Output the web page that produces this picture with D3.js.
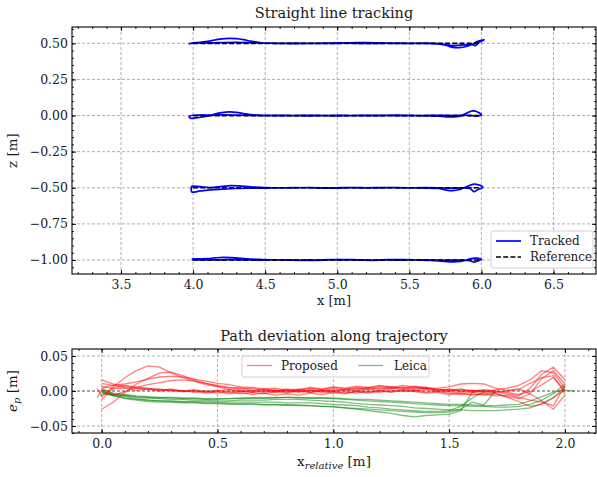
<!DOCTYPE html>
<html>
<head>
<meta charset="utf-8">
<script src="https://cdn.jsdelivr.net/npm/d3@7"></script>
<style>
body { margin: 0; background: #fff; }
svg text { font-family: "DejaVu Serif", serif; fill: #1a1a1a; }
</style>
</head>
<body>
<div id="chart-area"></div>
<script>
// ---- top plot data ----
const refZ = [0.5, 0.0, -0.5, -1.0];
const refX = [4.0, 6.0];

const track050 = [[3.97,0.493],[3.99,0.502],[4.05,0.507],[4.10,0.514],[4.15,0.523],[4.20,0.531],[4.25,0.534],[4.30,0.532],[4.35,0.525],[4.40,0.515],[4.45,0.507],[4.50,0.502],[4.60,0.500],[4.70,0.498],[4.80,0.499],[4.90,0.501],[5.00,0.503],[5.10,0.504],[5.20,0.505],[5.30,0.503],[5.40,0.500],[5.50,0.499],[5.60,0.500],[5.70,0.496],[5.75,0.487],[5.80,0.472],[5.85,0.470],[5.90,0.480],[5.94,0.494],[5.97,0.512],[6.02,0.524],[5.98,0.505],[5.96,0.484],[5.93,0.493],[5.88,0.489],[5.82,0.484],[5.76,0.490],[5.70,0.498],[5.60,0.501],[5.50,0.500],[5.40,0.502],[5.30,0.500],[5.20,0.499],[5.10,0.501],[5.00,0.500],[4.90,0.499],[4.80,0.500],[4.70,0.501],[4.60,0.500],[4.50,0.502],[4.40,0.504],[4.30,0.506],[4.20,0.505],[4.10,0.503],[4.00,0.501],[3.97,0.498]];
const track000 = [[3.97,-0.005],[3.98,-0.018],[4.05,-0.012],[4.10,-0.004],[4.15,0.010],[4.20,0.020],[4.25,0.025],[4.30,0.022],[4.35,0.014],[4.40,0.006],[4.50,0.001],[4.60,-0.001],[4.70,0.000],[4.80,-0.002],[4.90,0.000],[5.00,0.001],[5.10,0.000],[5.20,0.002],[5.30,0.000],[5.40,0.003],[5.50,0.001],[5.60,-0.002],[5.70,-0.004],[5.75,-0.008],[5.80,-0.010],[5.85,-0.005],[5.90,0.018],[5.94,0.032],[5.97,0.026],[6.00,0.003],[5.97,-0.002],[5.90,0.002],[5.80,0.000],[5.70,0.002],[5.60,0.000],[5.50,-0.001],[5.40,0.000],[5.30,0.001],[5.20,-0.001],[5.10,0.000],[5.00,-0.002],[4.90,0.000],[4.80,0.002],[4.70,0.000],[4.60,0.001],[4.50,0.000],[4.40,0.001],[4.30,0.003],[4.20,0.004],[4.10,0.003],[4.00,0.002],[3.97,-0.005]];
const trackM050 = [[3.99,-0.488],[4.05,-0.492],[4.12,-0.498],[4.20,-0.490],[4.26,-0.485],[4.32,-0.487],[4.40,-0.494],[4.50,-0.499],[4.60,-0.501],[4.70,-0.499],[4.80,-0.500],[4.90,-0.502],[5.00,-0.500],[5.10,-0.498],[5.20,-0.500],[5.30,-0.501],[5.40,-0.499],[5.50,-0.500],[5.60,-0.502],[5.70,-0.505],[5.75,-0.515],[5.80,-0.520],[5.85,-0.512],[5.90,-0.492],[5.94,-0.476],[5.98,-0.480],[6.01,-0.497],[5.97,-0.515],[5.95,-0.527],[5.92,-0.505],[5.85,-0.502],[5.80,-0.503],[5.70,-0.500],[5.60,-0.499],[5.50,-0.501],[5.40,-0.500],[5.30,-0.498],[5.20,-0.501],[5.10,-0.500],[5.00,-0.502],[4.90,-0.500],[4.80,-0.499],[4.70,-0.501],[4.60,-0.500],[4.50,-0.502],[4.40,-0.503],[4.30,-0.505],[4.20,-0.510],[4.12,-0.515],[4.05,-0.522],[3.99,-0.528],[3.99,-0.488]];
const trackM100 = [[3.99,-0.994],[4.05,-0.992],[4.10,-0.990],[4.15,-0.986],[4.21,-0.982],[4.27,-0.984],[4.35,-0.990],[4.45,-0.996],[4.55,-0.999],[4.65,-1.001],[4.75,-1.002],[4.85,-1.000],[4.95,-0.998],[5.05,-0.997],[5.15,-0.999],[5.25,-1.000],[5.35,-0.998],[5.45,-0.997],[5.55,-1.000],[5.65,-1.003],[5.72,-1.008],[5.78,-1.013],[5.83,-1.012],[5.88,-1.004],[5.93,-0.990],[5.96,-0.987],[6.00,-0.995],[5.98,-1.005],[5.95,-1.015],[5.92,-1.005],[5.85,-1.001],[5.75,-1.002],[5.65,-1.000],[5.55,-0.999],[5.45,-1.001],[5.35,-1.000],[5.25,-1.002],[5.15,-1.001],[5.05,-0.999],[4.95,-1.000],[4.85,-1.002],[4.75,-1.000],[4.65,-0.999],[4.55,-1.000],[4.45,-1.001],[4.35,-0.999],[4.25,-0.998],[4.15,-0.999],[4.05,-1.000],[3.99,-0.998]];
const tracks = [track050, track000, trackM050, trackM100];

const topXTicks = [3.5, 4.0, 4.5, 5.0, 5.5, 6.0, 6.5];
const topYTicks = [0.5, 0.25, 0.0, -0.25, -0.5, -0.75, -1.0];

// ---- bottom plot data ----
const xRel = [-0.02,0.00,0.05,0.10,0.15,0.20,0.25,0.30,0.35,0.40,0.45,0.50,0.55,0.60,0.65,0.70,0.75,0.80,0.85,0.90,0.95,1.00,1.05,1.10,1.15,1.20,1.25,1.30,1.35,1.40,1.45,1.50,1.55,1.60,1.65,1.70,1.75,1.80,1.85,1.90,1.95,2.00,2.04];

const proposed1 = [0.004,-0.008,0.006,0.019,0.029,0.036,0.034,0.026,0.019,0.014,0.009,0.006,0.002,0.001,-0.002,0.000,-0.002,0.001,-0.001,0.002,0.000,0.003,0.001,0.004,0.002,0.005,0.003,0.006,0.004,0.005,0.001,0.002,-0.001,0.001,-0.002,-0.001,-0.004,-0.007,0.004,0.024,0.034,0.016,null];
const proposed2 = [null,-0.026,-0.016,-0.002,0.010,0.018,0.026,0.027,0.022,0.016,0.011,0.007,0.004,0.005,0.001,0.003,0.000,0.002,-0.002,0.001,-0.002,0.000,-0.003,0.000,-0.002,0.001,-0.001,0.002,0.000,0.002,-0.001,-0.003,-0.005,-0.004,-0.006,-0.004,-0.008,-0.011,-0.004,0.018,0.029,0.010,null];
const proposed3 = [null,0.011,0.008,0.010,0.013,0.017,0.020,0.021,0.020,0.017,0.014,0.011,0.009,0.006,0.005,0.003,0.004,0.001,0.003,0.000,0.002,0.000,0.003,0.005,0.004,0.007,0.005,0.008,0.006,0.004,0.002,0.000,0.002,-0.001,0.001,-0.002,0.000,0.002,0.011,0.019,0.022,-0.004,null];
const proposed4 = [-0.010,0.001,-0.006,-0.001,0.005,0.009,0.012,0.015,0.016,0.014,0.011,0.008,0.005,0.003,0.004,0.001,0.002,-0.001,0.001,-0.002,0.000,-0.003,-0.001,-0.003,0.000,-0.002,0.001,-0.001,0.001,-0.002,0.000,-0.001,-0.003,-0.002,-0.004,-0.003,-0.009,-0.015,-0.022,-0.019,-0.010,0.006,null];
const proposed5 = [null,0.016,0.010,0.007,0.004,0.003,0.001,0.003,0.000,0.002,-0.001,0.001,-0.002,0.000,-0.001,0.002,0.000,0.003,0.001,0.004,0.002,0.005,0.003,0.002,0.005,0.003,0.006,0.004,0.002,0.004,0.001,0.003,0.000,0.001,-0.001,0.002,0.004,0.008,0.016,0.029,0.026,0.004,null];
const proposed6 = [null,0.004,0.008,0.005,0.004,0.002,0.003,0.000,0.001,-0.002,0.000,-0.003,-0.001,-0.004,-0.002,-0.004,-0.001,-0.003,0.000,-0.002,0.001,-0.001,0.002,0.000,0.003,0.001,0.004,0.002,0.005,0.003,0.004,0.006,0.010,0.011,0.010,0.004,0.001,0.003,-0.004,-0.014,-0.026,-0.006,null];
const proposed7 = [null,-0.012,0.004,0.008,0.006,0.004,0.002,0.001,-0.001,0.000,-0.003,-0.001,-0.004,-0.002,-0.005,-0.003,-0.006,-0.004,-0.006,-0.003,-0.005,-0.002,-0.004,-0.001,-0.003,0.000,-0.002,0.001,-0.001,-0.003,-0.002,-0.005,-0.003,-0.006,-0.004,-0.007,-0.006,-0.009,-0.013,-0.016,-0.021,0.008,null];
const proposed8 = [null,0.007,0.003,0.004,0.001,0.003,0.000,0.002,-0.001,0.001,-0.002,0.000,0.002,-0.001,0.001,-0.002,0.001,-0.002,0.002,0.005,0.003,0.006,0.004,0.007,0.005,0.008,0.006,0.004,0.007,0.005,0.003,0.001,0.003,0.000,0.002,0.000,-0.002,-0.005,-0.001,0.009,0.019,0.001,null];
const proposedRuns = [proposed1, proposed2, proposed3, proposed4, proposed5, proposed6, proposed7, proposed8];

const leica1 = [null,0.000,-0.006,-0.011,-0.013,-0.015,-0.016,-0.016,-0.017,-0.017,-0.018,-0.018,-0.019,-0.019,-0.019,-0.020,-0.020,-0.020,-0.021,-0.021,-0.022,-0.022,-0.024,-0.026,-0.028,-0.030,-0.032,-0.035,-0.037,-0.035,-0.034,-0.033,-0.028,-0.002,0.000,null,null,null,null,null,null,null,null];
const leica2 = [null,0.004,-0.004,-0.008,-0.011,-0.013,-0.014,-0.015,-0.016,-0.016,-0.017,-0.017,-0.018,-0.018,-0.018,-0.019,-0.019,-0.020,-0.020,-0.021,-0.022,-0.023,-0.024,-0.025,-0.026,-0.027,-0.028,-0.029,-0.030,-0.031,-0.031,-0.030,-0.026,-0.016,-0.020,0.000,null,null,null,null,null,null,null];
const leica3 = [null,-0.002,-0.005,-0.007,-0.009,-0.010,-0.011,-0.012,-0.012,-0.013,-0.013,-0.014,-0.014,-0.013,-0.013,-0.013,-0.012,-0.012,-0.012,-0.013,-0.014,-0.015,-0.016,-0.018,-0.019,-0.020,-0.021,-0.022,-0.024,-0.025,-0.026,-0.027,-0.027,-0.028,-0.028,-0.028,-0.027,-0.026,-0.024,-0.018,-0.009,0.001,0.000];
const leica4 = [null,-0.004,-0.006,-0.006,-0.008,-0.009,-0.010,-0.010,-0.011,-0.011,-0.012,-0.012,-0.011,-0.011,-0.010,-0.010,-0.010,-0.009,-0.009,-0.010,-0.010,-0.011,-0.012,-0.013,-0.014,-0.015,-0.016,-0.017,-0.018,-0.019,-0.020,-0.021,-0.021,-0.022,-0.022,-0.023,-0.023,-0.022,-0.019,-0.013,-0.004,0.010,null];
const leica5 = [null,0.002,-0.003,-0.005,-0.007,-0.008,-0.009,-0.009,-0.010,-0.010,-0.011,-0.011,-0.011,-0.010,-0.010,-0.010,-0.009,-0.009,-0.010,-0.010,-0.010,-0.010,-0.011,-0.012,-0.012,-0.013,-0.014,-0.015,-0.016,-0.017,-0.018,-0.019,-0.019,-0.020,-0.021,-0.021,-0.020,-0.019,-0.014,-0.008,-0.002,0.002,null];
const leica6 = [null,-0.002,-0.007,-0.010,-0.012,-0.013,-0.014,-0.014,-0.015,-0.015,-0.015,-0.016,-0.016,-0.016,-0.016,-0.016,-0.016,-0.017,-0.017,-0.017,-0.018,-0.019,-0.020,-0.021,-0.023,-0.024,-0.026,-0.027,-0.028,-0.029,-0.029,-0.028,-0.022,-0.010,-0.001,-0.002,null,null,null,null,null,null,null];
const leicaRuns = [leica1, leica2, leica3, leica4, leica5, leica6];

const botXTicks = [0.0, 0.5, 1.0, 1.5, 2.0];
const botYTicks = [0.05, 0.0, -0.05];

// ---- layout ----
const WIDTH = 597, HEIGHT = 477;
const svg = d3.select("#chart-area").append("svg").attr("width", WIDTH).attr("height", HEIGHT);

const topBox = { left: 72, right: 596, top: 27, bottom: 274 };
const botBox = { left: 72, right: 596, top: 349, bottom: 433 };

function drawAxes(g, x, y, w, h, xTicks, yTicks, xMinorStep, yMinorStep, xFmt, yFmt) {
    const xd = x.domain(), yd = y.domain();
    const xMinor = d3.range(Math.ceil(xd[0] / xMinorStep) * xMinorStep, xd[1], xMinorStep);
    const yMinor = d3.range(Math.ceil(yd[0] / yMinorStep) * yMinorStep, yd[1], yMinorStep);

    // ticks (inward)
    g.append("g").attr("transform", `translate(0,${h})`).call(d3.axisBottom(x).tickValues(xTicks).tickSize(-4).tickPadding(6).tickFormat(d3.format(xFmt)));
    g.append("g").attr("transform", `translate(0,${h})`).call(d3.axisBottom(x).tickValues(xMinor).tickSize(-2).tickFormat(""));
    g.append("g").call(d3.axisTop(x).tickValues(xTicks).tickSize(-4).tickFormat(""));
    g.append("g").call(d3.axisTop(x).tickValues(xMinor).tickSize(-2).tickFormat(""));
    g.append("g").call(d3.axisLeft(y).tickValues(yTicks).tickSize(-4).tickPadding(4).tickFormat(d3.format(yFmt)));
    g.append("g").call(d3.axisLeft(y).tickValues(yMinor).tickSize(-2).tickFormat(""));
    g.append("g").attr("transform", `translate(${w},0)`).call(d3.axisRight(y).tickValues(yTicks).tickSize(-4).tickFormat(""));
    g.append("g").attr("transform", `translate(${w},0)`).call(d3.axisRight(y).tickValues(yMinor).tickSize(-2).tickFormat(""));

    g.selectAll(".domain").remove();
    g.selectAll(".tick line").attr("stroke", "#000").attr("stroke-width", 0.9);
    g.selectAll(".tick text").attr("font-size", "12.5px").attr("font-family", "DejaVu Serif").attr("fill", "#1a1a1a");

    g.append("rect").attr("width", w).attr("height", h).attr("fill", "none").attr("stroke", "#000").attr("stroke-width", 1.1);
}

function drawGrid(g, x, y, w, h, xTicks, yTicks) {
    g.append("g").selectAll("line").data(xTicks).enter().append("line").
        attr("x1", d => x(d)).attr("x2", d => x(d)).attr("y1", 0).attr("y2", h).
        attr("stroke", "#a8a8a8").attr("stroke-width", 0.9).attr("stroke-dasharray", "3,2");
    g.append("g").selectAll("line").data(yTicks).enter().append("line").
        attr("y1", d => y(d)).attr("y2", d => y(d)).attr("x1", 0).attr("x2", w).
        attr("stroke", "#a8a8a8").attr("stroke-width", 0.9).attr("stroke-dasharray", "3,2");
}

// ======== TOP PLOT ========
const tw = topBox.right - topBox.left, th = topBox.bottom - topBox.top;
const gTop = svg.append("g").attr("transform", `translate(${topBox.left},${topBox.top})`);
const x1 = d3.scaleLinear().domain([3.16, 6.795]).range([0, tw]);
const y1 = d3.scaleLinear().domain([-1.097, 0.613]).range([th, 0]);

drawGrid(gTop, x1, y1, tw, th, topXTicks, topYTicks);

const line1 = d3.line().x(d => x1(d[0])).y(d => y1(d[1])).curve(d3.curveCatmullRom);
gTop.append("g").selectAll("path").data(tracks).enter().append("path").
    attr("d", line1).attr("fill", "none").attr("stroke", "#0000ff").attr("stroke-width", 1.7);

gTop.append("g").selectAll("line").data(refZ).enter().append("line").
    attr("x1", x1(refX[0])).attr("x2", x1(refX[1])).
    attr("y1", d => y1(d)).attr("y2", d => y1(d)).
    attr("stroke", "#000").attr("stroke-width", 1.7).attr("stroke-dasharray", "5,2.2");

drawAxes(gTop, x1, y1, tw, th, topXTicks, topYTicks, 0.1, 0.05, ".1f", ".2f");

// legend
const lg1 = svg.append("g").attr("transform", "translate(491,231)");
lg1.append("rect").attr("width", 102).attr("height", 37).attr("rx", 2).attr("fill", "#fff").attr("fill-opacity", 0.85).attr("stroke", "#d0d0d0");
lg1.append("line").attr("x1", 5).attr("x2", 30).attr("y1", 10).attr("y2", 10).attr("stroke", "#0000ff").attr("stroke-width", 1.7);
lg1.append("line").attr("x1", 5).attr("x2", 30).attr("y1", 26).attr("y2", 26).attr("stroke", "#000").attr("stroke-width", 1.7).attr("stroke-dasharray", "5,2.2");
lg1.append("text").attr("x", 39).attr("y", 14).attr("font-size", "12px").text("Tracked");
lg1.append("text").attr("x", 39).attr("y", 30).attr("font-size", "12px").text("Reference");

svg.append("text").attr("x", (topBox.left + topBox.right) / 2).attr("y", 17.5).attr("text-anchor", "middle").attr("font-size", "14.5px").text("Straight line tracking");
svg.append("text").attr("x", (topBox.left + topBox.right) / 2).attr("y", 304.5).attr("text-anchor", "middle").attr("font-size", "13px").text("x [m]");
svg.append("text").attr("transform", `translate(17,${(topBox.top + topBox.bottom) / 2}) rotate(-90)`).attr("text-anchor", "middle").attr("font-size", "13.5px").text("z [m]");

// ======== BOTTOM PLOT ========
const bw = botBox.right - botBox.left, bh = botBox.bottom - botBox.top;
const gBot = svg.append("g").attr("transform", `translate(${botBox.left},${botBox.top})`);
const x2 = d3.scaleLinear().domain([-0.128, 2.134]).range([0, bw]);
const y2 = d3.scaleLinear().domain([-0.06, 0.06]).range([bh, 0]);

drawGrid(gBot, x2, y2, bw, bh, botXTicks, botYTicks);
gBot.append("line").attr("x1", 0).attr("x2", bw).attr("y1", y2(0)).attr("y2", y2(0)).
    attr("stroke", "#666").attr("stroke-width", 0.9).attr("stroke-dasharray", "3,2");

const line2 = d3.line().defined(d => d[1] !== null).x(d => x2(d[0])).y(d => y2(d[1]));
const toPts = run => run.map((v, i) => [xRel[i], v]);

gBot.append("g").selectAll("path").data(leicaRuns).enter().append("path").
    attr("d", run => line2(toPts(run))).attr("fill", "none").
    attr("stroke", "#008000").attr("stroke-opacity", 0.5).attr("stroke-width", 1.3);
gBot.append("g").selectAll("path").data(proposedRuns).enter().append("path").
    attr("d", run => line2(toPts(run))).attr("fill", "none").
    attr("stroke", "#ff0000").attr("stroke-opacity", 0.5).attr("stroke-width", 1.3);

drawAxes(gBot, x2, y2, bw, bh, botXTicks, botYTicks, 0.1, 0.01, ".1f", ".2f");

// legend
const lg2 = svg.append("g").attr("transform", "translate(242,356)");
lg2.append("rect").attr("width", 187).attr("height", 21).attr("rx", 2).attr("fill", "#fff").attr("fill-opacity", 0.85).attr("stroke", "#d0d0d0");
lg2.append("line").attr("x1", 5).attr("x2", 30).attr("y1", 9.5).attr("y2", 9.5).attr("stroke", "#ff0000").attr("stroke-opacity", 0.5).attr("stroke-width", 1.3);
lg2.append("text").attr("x", 39).attr("y", 14).attr("font-size", "12px").text("Proposed");
lg2.append("line").attr("x1", 116).attr("x2", 141).attr("y1", 9.5).attr("y2", 9.5).attr("stroke", "#008000").attr("stroke-opacity", 0.5).attr("stroke-width", 1.3);
lg2.append("text").attr("x", 152).attr("y", 14).attr("font-size", "12px").text("Leica");

svg.append("text").attr("x", (botBox.left + botBox.right) / 2).attr("y", 341).attr("text-anchor", "middle").attr("font-size", "14.5px").text("Path deviation along trajectory");

const xl2 = svg.append("text").attr("x", (botBox.left + botBox.right) / 2).attr("y", 466).attr("text-anchor", "middle").attr("font-size", "13.5px");
xl2.append("tspan").text("x");
xl2.append("tspan").attr("font-size", "10px").attr("font-style", "italic").attr("dy", 3).text("relative");
xl2.append("tspan").attr("dy", -3).text(" [m]");

const yl2 = svg.append("text").attr("transform", `translate(17,${(botBox.top + botBox.bottom) / 2}) rotate(-90)`).attr("text-anchor", "middle").attr("font-size", "13.5px");
yl2.append("tspan").attr("font-style", "italic").text("e");
yl2.append("tspan").attr("font-size", "10px").attr("font-style", "italic").attr("dy", 3).text("p");
yl2.append("tspan").attr("dy", -3).text(" [m]");
</script>
</body>
</html>
